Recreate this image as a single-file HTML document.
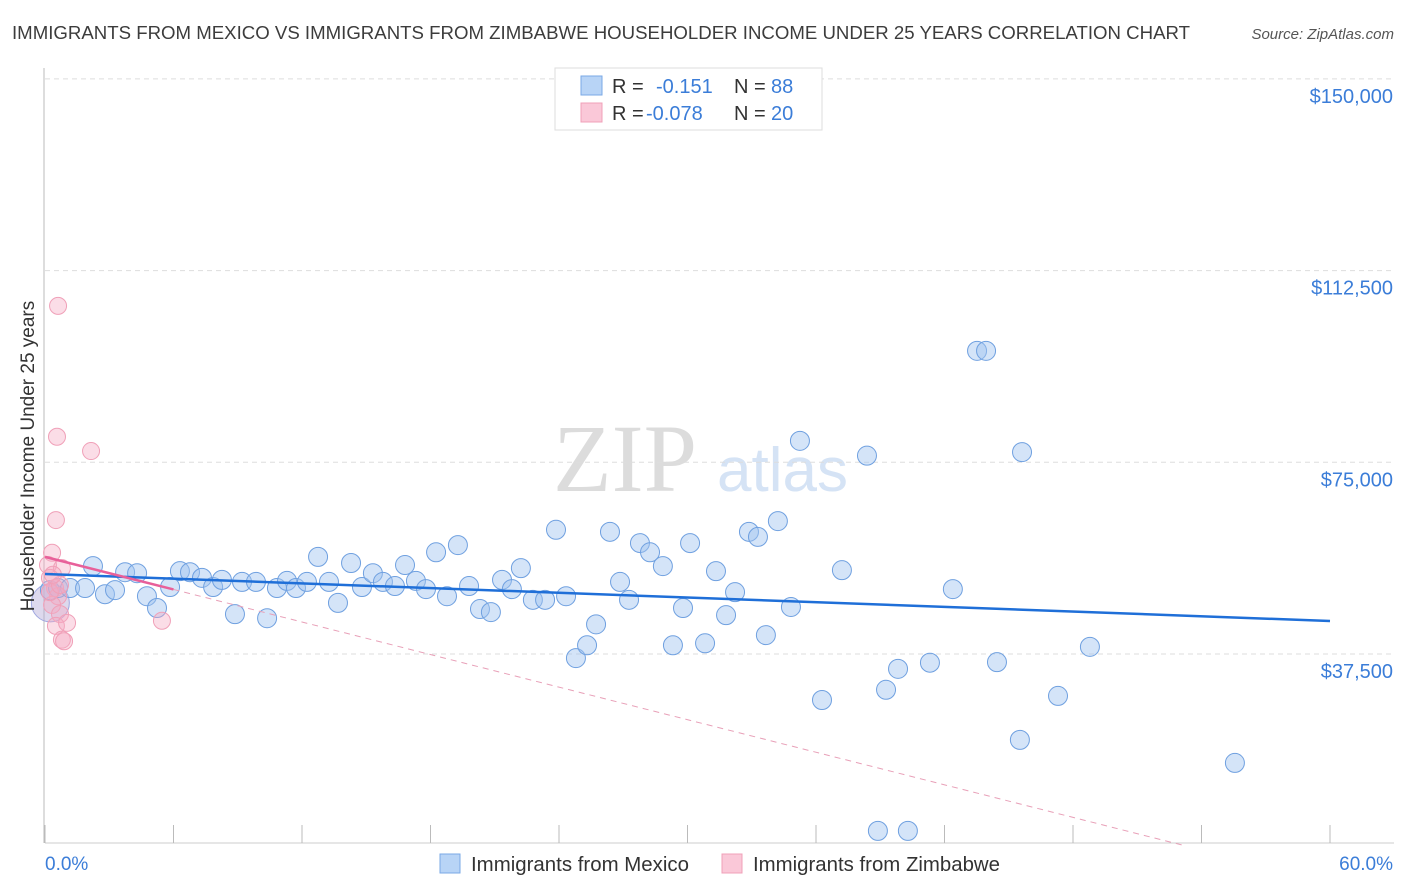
<!DOCTYPE html>
<html><head><meta charset="utf-8"><style>
body{margin:0;background:#fff;font-family:"Liberation Sans",sans-serif}
svg{display:block}
</style></head><body>
<svg id="chart" width="1406" height="892" viewBox="0 0 1406 892" xmlns="http://www.w3.org/2000/svg">
<text x="12" y="39" font-size="18" fill="#3c3c3c" textLength="1178" lengthAdjust="spacingAndGlyphs">IMMIGRANTS FROM MEXICO VS IMMIGRANTS FROM ZIMBABWE HOUSEHOLDER INCOME UNDER 25 YEARS CORRELATION CHART</text>
<text x="1394" y="39" font-size="15" fill="#555" font-style="italic" text-anchor="end">Source: ZipAtlas.com</text>
<g>
<text x="553" y="491" font-family="Liberation Serif,serif" font-size="96" fill="#dcdcdc">ZIP</text>
<text x="717" y="491" font-size="62" fill="#d5e3f5">atlas</text>
</g>
<g id="grid"></g>
<g id="axes"></g>
<g id="points"></g>
<g id="lines"></g>
<text transform="translate(34,456) rotate(-90)" font-size="19" fill="#333" text-anchor="middle">Householder Income Under 25 years</text>
<text x="45" y="870" font-size="19" fill="#3b7dd8">0.0%</text>
<text x="1393" y="870" font-size="19" fill="#3b7dd8" text-anchor="end">60.0%</text>
<g>
<rect x="555" y="68" width="267" height="62" fill="#fff" stroke="#ddd"/>
<rect x="581" y="76" width="21" height="19" fill="#b8d4f6" stroke="#7aa8e6"/>
<rect x="581" y="103" width="21" height="19" fill="#fac8d8" stroke="#f0a0b8"/>
<text x="612" y="93" font-size="20" fill="#333">R =</text>
<text x="656" y="93" font-size="20" fill="#3b7dd8">-0.151</text>
<text x="734" y="93" font-size="20" fill="#333">N =</text>
<text x="771" y="93" font-size="20" fill="#3b7dd8">88</text>
<text x="612" y="120" font-size="20" fill="#333">R =</text>
<text x="646" y="120" font-size="20" fill="#3b7dd8">-0.078</text>
<text x="734" y="120" font-size="20" fill="#333">N =</text>
<text x="771" y="120" font-size="20" fill="#3b7dd8">20</text>
</g>
<g>
<rect x="440" y="854" width="20" height="19" fill="#b8d4f6" stroke="#7aa8e6"/>
<text x="471" y="871" font-size="20" fill="#333" textLength="218" lengthAdjust="spacingAndGlyphs">Immigrants from Mexico</text>
<rect x="722" y="854" width="20" height="19" fill="#fac8d8" stroke="#f0a0b8"/>
<text x="753" y="871" font-size="20" fill="#333" textLength="247" lengthAdjust="spacingAndGlyphs">Immigrants from Zimbabwe</text>
</g>
</svg>
<script>
const yTicks=[37.5,75,112.5,150];
const yTickLabels=["$37,500","$75,000","$112,500","$150,000"];
const xTicks=[0,6,12,18,24,30,36,42,48,54,60];
const mexicoX=[0.23,0.61,1.17,1.87,2.24,2.80,3.27,3.74,4.30,4.76,5.23,5.84,6.30,6.77,7.33,7.85,8.26,8.87,9.20,9.85,10.37,10.83,11.30,11.72,12.23,12.75,13.26,13.68,14.29,14.80,15.31,15.78,16.34,16.81,17.32,17.79,18.26,18.77,19.28,19.80,20.31,20.82,21.34,21.80,22.22,22.78,23.35,23.86,24.33,24.79,25.31,25.73,26.38,26.85,27.27,27.78,28.25,28.85,29.32,29.79,30.12,30.82,31.33,31.80,32.22,32.87,33.29,33.66,34.22,34.83,35.25,36.28,37.21,38.38,39.27,39.83,41.32,42.39,43.52,43.94,44.45,45.52,45.62,47.30,48.79,55.56,38.89,40.29];
const mexicoY=[50.0,50.4,50.4,50.4,54.7,49.2,50.0,53.5,53.3,48.8,46.5,50.6,53.7,53.5,52.4,50.6,52.0,45.3,51.6,51.6,44.5,50.4,51.8,50.4,51.6,56.5,51.6,47.5,55.3,50.6,53.3,51.6,50.8,54.9,51.8,50.2,57.4,48.8,58.8,50.8,46.3,45.7,52.0,50.2,54.3,48.1,48.1,61.8,48.8,36.7,39.2,43.3,61.4,51.6,48.1,59.2,57.4,54.7,39.2,46.5,59.2,39.6,53.7,45.1,49.6,61.4,60.4,41.2,63.5,46.7,79.2,28.5,53.9,76.3,30.5,34.6,35.8,50.2,96.8,96.8,35.9,20.7,77.0,29.3,38.9,16.2,2.9,2.9];
const zimX=[0.61,0.56,2.15,0.51,0.33,0.14,0.79,0.23,0.47,0.61,0.33,0.70,0.51,1.03,0.79,0.89,5.46,0.23,0.70,0.37];
const zimY=[105.6,80.0,77.2,63.7,57.3,54.9,54.3,52.4,50.4,48.8,47.1,45.3,43.0,43.6,40.3,40.0,44.0,49.6,51.0,53.0];
const mexicoTrend=[53.15,43.96];
const zimTrend=[56.5,-7.2];
const xS=v=>45+v/60*1285;
const yS=k=>845.7-k*5.112;
const NS="http://www.w3.org/2000/svg";
function mk(tag,attrs,parent){const e=document.createElementNS(NS,tag);for(const k in attrs)e.setAttribute(k,attrs[k]);document.getElementById(parent).appendChild(e);return e;}
yTicks.forEach((t,i)=>{
 const g=mk('line',{x1:45,x2:1394,y1:yS(t),y2:yS(t),stroke:'#ddd','stroke-dasharray':'5,4'},'grid');
 
 
 const l=mk('text',{x:1393,y:yS(t)+24,'font-size':20,fill:'#3b7dd8','text-anchor':'end'},'grid');
 l.textContent=yTickLabels[i];
 
 
});
const ya=mk('line',{x1:44,x2:44,y1:68,y2:843,stroke:'#bbb'},'axes');


const xa=mk('line',{x1:45,x2:1394,y1:843,y2:843,stroke:'#ccc'},'axes');


xTicks.forEach(t=>{
 const tk=mk('line',{x1:xS(t),x2:xS(t),y1:825,y2:843,stroke:'#bbb'},'axes');
 
 
});
const big=mk('circle',{cx:xS(0.25),cy:yS(47.5),r:19,fill:'rgba(180,170,215,0.45)',stroke:'#a0a8e0'},'points');


mexicoX.forEach((x,i)=>{
 const c=mk('circle',{cx:xS(x),cy:yS(mexicoY[i]),r:9.5,fill:'rgba(160,196,240,0.45)',stroke:'#6fa0e0','stroke-width':1},'points');
 
 
});
zimX.forEach((x,i)=>{
 const c=mk('circle',{cx:xS(x),cy:yS(zimY[i]),r:8.5,fill:'rgba(245,170,195,0.4)',stroke:'#f0a0b8','stroke-width':1},'points');
 
 
});
const mt=mk('line',{x1:xS(0),y1:yS(mexicoTrend[0]),x2:xS(60),y2:yS(mexicoTrend[1]),stroke:'#1f6fd8','stroke-width':2.5},'lines');


const zv=x=>zimTrend[0]+(zimTrend[1]-zimTrend[0])*x/60;
const zs=mk('line',{x1:xS(0),y1:yS(zv(0)),x2:xS(6),y2:yS(zv(6)),stroke:'#e8609a','stroke-width':2.5},'lines');


const xEnd=(0-zimTrend[0])*60/(zimTrend[1]-zimTrend[0]);
const zd=mk('line',{x1:xS(6),y1:yS(zv(6)),x2:xS(xEnd),y2:yS(0),stroke:'#e8a0b8','stroke-width':1,'stroke-dasharray':'6,5'},'lines');


</script>
</body></html>
